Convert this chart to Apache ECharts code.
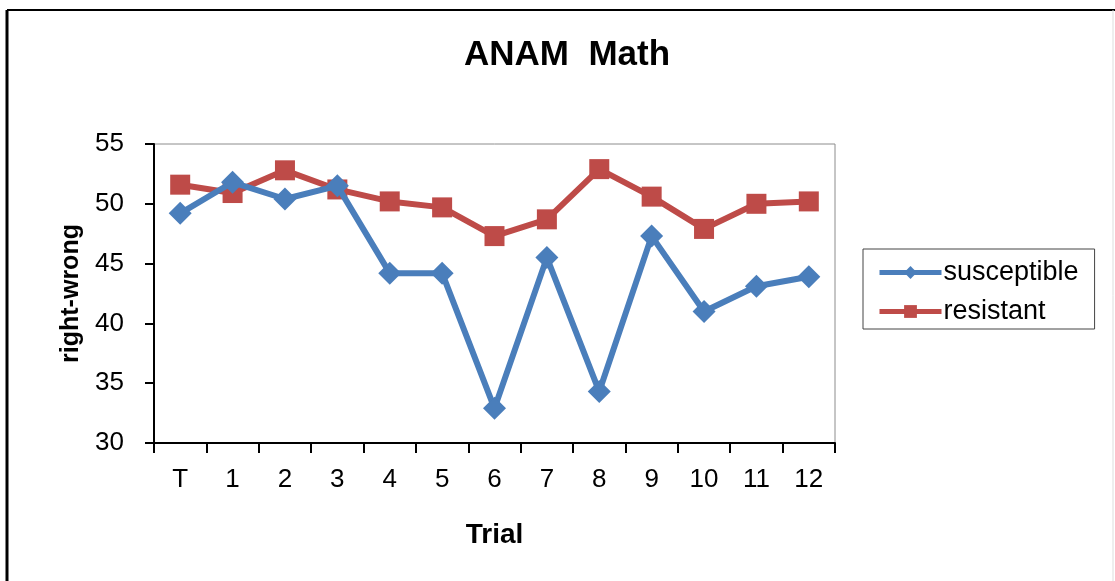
<!DOCTYPE html>
<html>
<head>
<meta charset="utf-8">
<script src="https://cdn.jsdelivr.net/npm/echarts@6/dist/echarts.min.js"></script>
<style>
html,body{margin:0;padding:0;background:#fff;}
#chart{width:1115px;height:581px;}
</style>
</head>
<body>
<div id="chart"></div>
<script>
const categories = ['T','1','2','3','4','5','6','7','8','9','10','11','12'];
const susceptible = [49.2, 51.8, 50.4, 51.5, 44.2, 44.2, 32.9, 45.5, 34.3, 47.3, 41.0, 43.1, 43.9];
const resistant = [51.6, 50.9, 52.8, 51.2, 50.2, 49.7, 47.3, 48.7, 52.9, 50.6, 47.9, 50.0, 50.2];
const seriesNames = ['susceptible', 'resistant'];
const titleText = 'ANAM  Math';
const yAxisTitle = 'right-wrong';
const xAxisTitle = 'Trial';

const FONT = '"Liberation Sans", Arial, sans-serif';
const chart = echarts.init(document.getElementById('chart'), null, {renderer: 'canvas'});
chart.setOption({
  backgroundColor: '#ffffff',
  animation: false,
  title: {
    text: titleText,
    left: 464, top: 38, padding: 0,
    textStyle: {fontFamily: FONT, fontSize: 35, fontWeight: 'bold', color: '#000'}
  },
  graphic: [
    {type: 'line', shape: {x1: 7, y1: 10, x2: 7, y2: 581}, style: {stroke: '#000', lineWidth: 3}},
    {type: 'line', shape: {x1: 7, y1: 10, x2: 1115, y2: 10}, style: {stroke: '#000', lineWidth: 2}},
    {type: 'line', shape: {x1: 1113, y1: 10, x2: 1113, y2: 581}, style: {stroke: '#dddddd', lineWidth: 1}}
  ],
  legend: {
    orient: 'vertical',
    left: 863, top: 249,
    padding: [10, 16, 4, 14],
    borderColor: '#444', borderWidth: 1,
    itemWidth: 62, itemHeight: 16, itemGap: 12,
    lineStyle: {width: 5},
    textStyle: {fontFamily: FONT, fontSize: 27, color: '#000', padding: [0,0,0,-3]},
    data: seriesNames
  },
  grid: {
    left: 154, right: 280, top: 144, bottom: 138,
    show: true, borderColor: '#8c8c8c', borderWidth: 1, containLabel: false
  },
  xAxis: {
    type: 'category',
    data: categories,
    boundaryGap: true,
    name: xAxisTitle,
    nameLocation: 'middle',
    nameGap: 78,
    nameTextStyle: {fontFamily: FONT, fontSize: 28, fontWeight: 'bold', color: '#000'},
    axisLine: {lineStyle: {color: '#000', width: 2}},
    axisTick: {show: true, length: 10, lineStyle: {color: '#000', width: 2}},
    axisLabel: {fontFamily: FONT, fontSize: 26, color: '#000', margin: 24, interval: 0},
    splitLine: {show: false}
  },
  yAxis: {
    type: 'value',
    min: 30, max: 55, interval: 5,
    name: yAxisTitle,
    nameLocation: 'middle',
    nameGap: 70,
    nameRotate: 90,
    nameTextStyle: {fontFamily: FONT, fontSize: 25, fontWeight: 'bold', color: '#000'},
    axisLine: {show: true, lineStyle: {color: '#000', width: 2}},
    axisTick: {show: true, length: 9, lineStyle: {color: '#000', width: 2}},
    axisLabel: {fontFamily: FONT, fontSize: 26, color: '#000', margin: 30},
    splitLine: {show: false}
  },
  series: [
    {
      name: seriesNames[0], type: 'line', data: susceptible,
      symbol: 'diamond', symbolSize: 23,
      lineStyle: {color: '#4A7EBB', width: 6},
      itemStyle: {color: '#4A7EBB'},
      z: 3
    },
    {
      name: seriesNames[1], type: 'line', data: resistant,
      symbol: 'rect', symbolSize: 20,
      lineStyle: {color: '#BE4B48', width: 6},
      itemStyle: {color: '#BE4B48'},
      z: 2
    }
  ]
});
</script>
</body>
</html>
